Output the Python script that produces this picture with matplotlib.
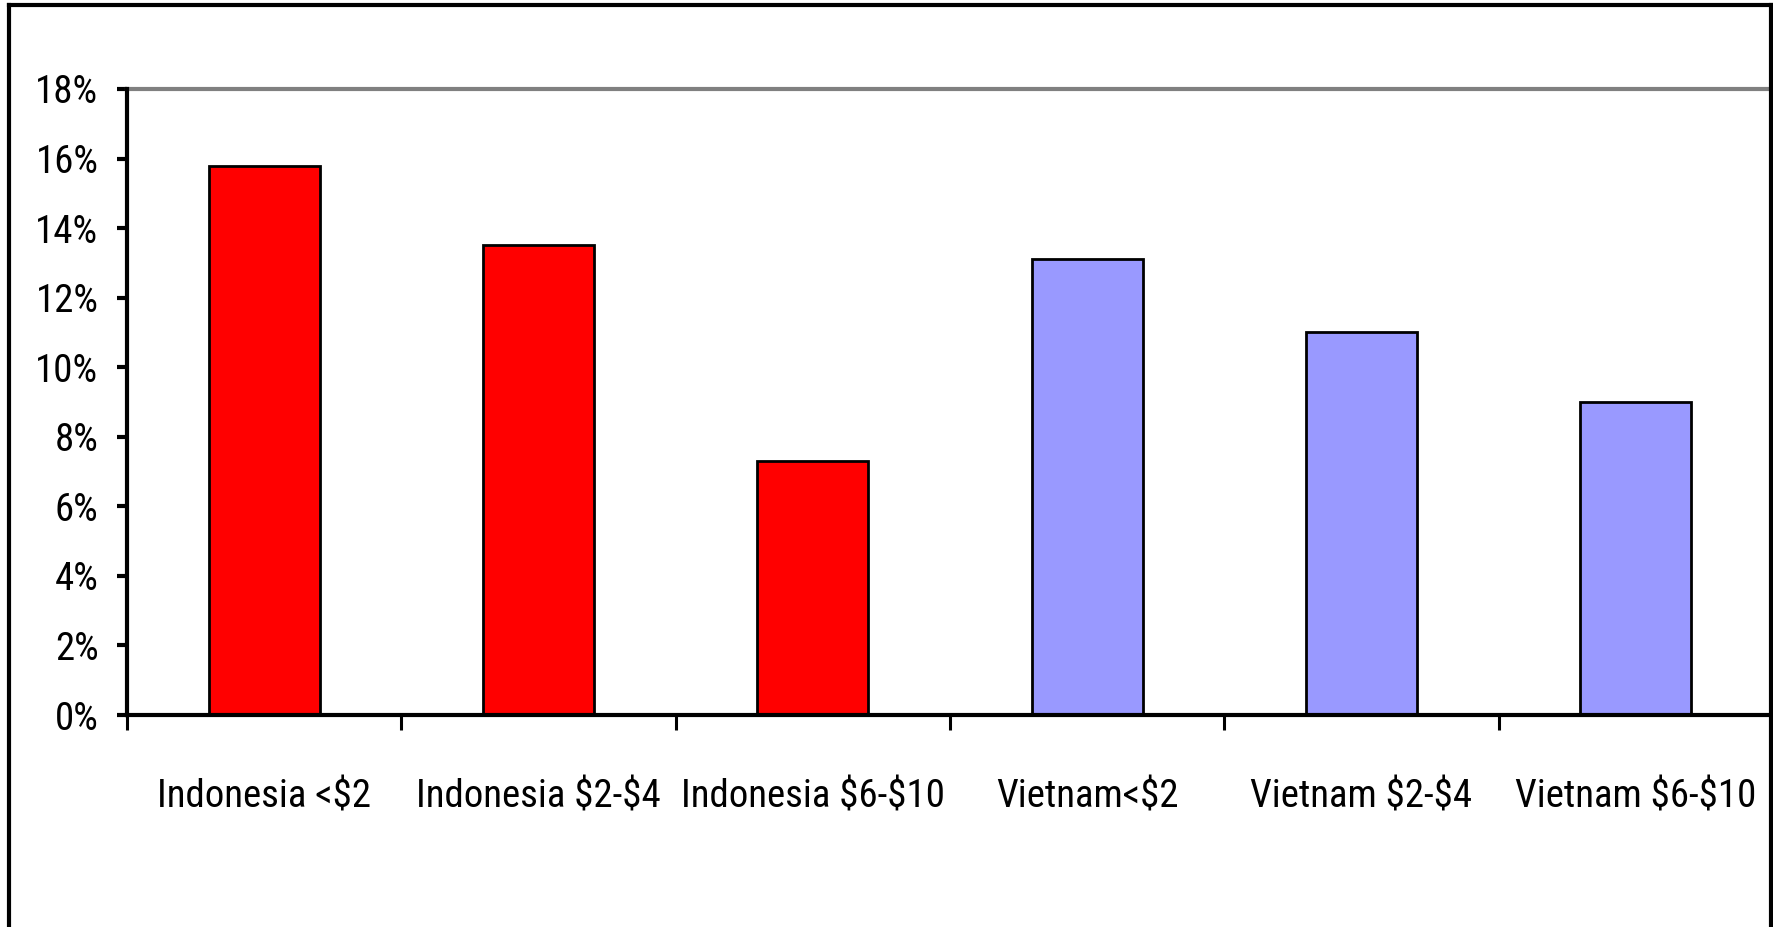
import matplotlib
matplotlib.use("Agg")
import matplotlib.pyplot as plt
from matplotlib.lines import Line2D
from matplotlib.ticker import FixedLocator, FuncFormatter

categories = ["Indonesia <$2", "Indonesia $2-$4", "Indonesia $6-$10",
              "Vietnam<$2", "Vietnam $2-$4", "Vietnam $6-$10"]
values = [15.8, 13.5, 7.3, 13.1, 11.0, 9.0]
colors = ["#FF0000", "#FF0000", "#FF0000", "#9999FF", "#9999FF", "#9999FF"]
yticks = [0, 2, 4, 6, 8, 10, 12, 14, 16, 18]

plt.rcParams["font.family"] = ["Roboto Condensed", "Liberation Sans", "DejaVu Sans"]
plt.rcParams["text.parse_math"] = False

W, H = 1773, 927
fig = plt.figure(figsize=(W / 100, H / 100), dpi=100)
ax = fig.add_axes([127 / W, 1 - 715 / H, (W - 127) / W, (715 - 89) / H])

x = list(range(len(categories)))
ax.bar(x, values, width=0.405, color=colors, edgecolor="black", linewidth=2, zorder=3)

ax.set_xlim(-0.5, len(categories) - 0.5)
ax.set_ylim(0, 18)

# spines
for s in ["top", "right"]:
    ax.spines[s].set_visible(False)
ax.spines["left"].set_linewidth(3)
ax.spines["bottom"].set_linewidth(3)
ax.spines["bottom"].set_zorder(4)
ax.axhline(18, color="#808080", linewidth=3, zorder=2, clip_on=False)

# y axis
ax.yaxis.set_major_locator(FixedLocator(yticks))
ax.yaxis.set_major_formatter(FuncFormatter(lambda v, p: f"{v:.0f}%"))
ax.tick_params(axis="y", direction="out", length=7.5, width=3, pad=13, labelsize=28)

# x axis: ticks at category boundaries, labels at centers
ax.xaxis.set_major_locator(FixedLocator([i - 0.5 for i in x]))
ax.xaxis.set_major_formatter(FuncFormatter(lambda v, p: ""))
ax.xaxis.set_minor_locator(FixedLocator(x))
ax.xaxis.set_minor_formatter(FuncFormatter(lambda v, p: categories[int(round(v))]))
ax.tick_params(axis="x", which="major", direction="out", length=11, width=2.2)
ax.tick_params(axis="x", which="minor", length=0, pad=46, labelsize=28)

# outer frame (cut off at bottom)
lw = 3
fig.add_artist(Line2D([9 / W, 9 / W], [0, 1 - 5 / H], transform=fig.transFigure, color="black", lw=lw))
fig.add_artist(Line2D([9 / W, (W - 2) / W], [1 - 5 / H, 1 - 5 / H], transform=fig.transFigure, color="black", lw=lw))
fig.add_artist(Line2D([(W - 2) / W, (W - 2) / W], [0, 1 - 5 / H], transform=fig.transFigure, color="black", lw=lw))

fig.savefig("out.png", dpi=100)
